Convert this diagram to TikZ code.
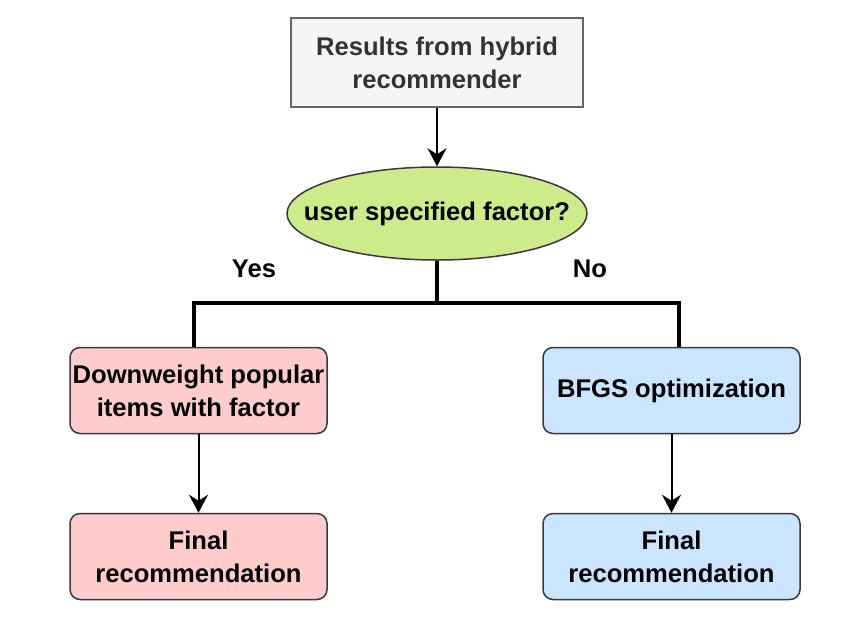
\documentclass[tikz,border=0pt]{standalone}
\usepackage{fontspec}
\setmainfont{Liberation Sans}
\usepackage{tikz}
\usetikzlibrary{positioning,shapes.geometric,arrows.meta,calc}
\definecolor{inputfill}{HTML}{F5F5F5}
\definecolor{inputdraw}{HTML}{666666}
\definecolor{inputtext}{HTML}{333333}
\definecolor{decfill}{HTML}{CDEB8B}
\definecolor{edgedark}{HTML}{36393D}
\definecolor{yesfill}{HTML}{FFCCCC}
\definecolor{nofill}{HTML}{CCE5FF}

\begin{document}
\begin{tikzpicture}[x=1pt, y=-1pt,
  every node/.style={font=\fontsize{25.6}{33}\selectfont\bfseries},
  input/.style={rectangle, fill=inputfill, draw=inputdraw, line width=1.5pt, text=inputtext,
                minimum width=292pt, minimum height=89pt, align=center, inner sep=0pt},
  decision/.style={ellipse, fill=decfill, draw=edgedark, line width=1.5pt,
                   minimum width=300pt, minimum height=93pt, inner sep=0pt},
  stepbox/.style={rectangle, rounded corners=10pt, draw=edgedark, line width=1.5pt,
                  minimum width=257pt, minimum height=86pt, align=center, inner sep=0pt},
  flow/.style={line width=2pt, -{Stealth[length=18pt, width=19pt, inset=6pt]}},
  branch/.style={line width=4pt}
]
  \useasboundingbox (0,0) rectangle (866,624);

  \node[input] (results) at (437,62.5) {Results from hybrid\\recommender};
  \node[decision] (factor) at (437,213.5) {\makebox[0pt]{user specified factor?}};

  \node[stepbox, fill=yesfill] (downweight) at (198.5,390.5) {Downweight popular\\items with factor};
  \node[stepbox, fill=nofill] (bfgs) at (671.5,390.5) {BFGS optimization};
  \node[stepbox, fill=yesfill] (yesfinal) at (198.5,556.5) {Final\\recommendation};
  \node[stepbox, fill=nofill] (nofinal) at (671.5,556.5) {Final\\recommendation};

  \node (yes) at (254,269) {Yes};
  \node (no) at (590,269) {No};

  \coordinate (split) at (437,303);

  \draw[flow] (results) -- (factor);
  \draw[branch] (factor.south) -- (split);
  \draw[branch] (split) -| ([xshift=-5pt]downweight.north);
  \draw[branch] (split) -| ([xshift=7.5pt]bfgs.north);
  \draw[flow] (downweight) -- (yesfinal);
  \draw[flow] (bfgs) -- (nofinal);
\end{tikzpicture}
\end{document}
